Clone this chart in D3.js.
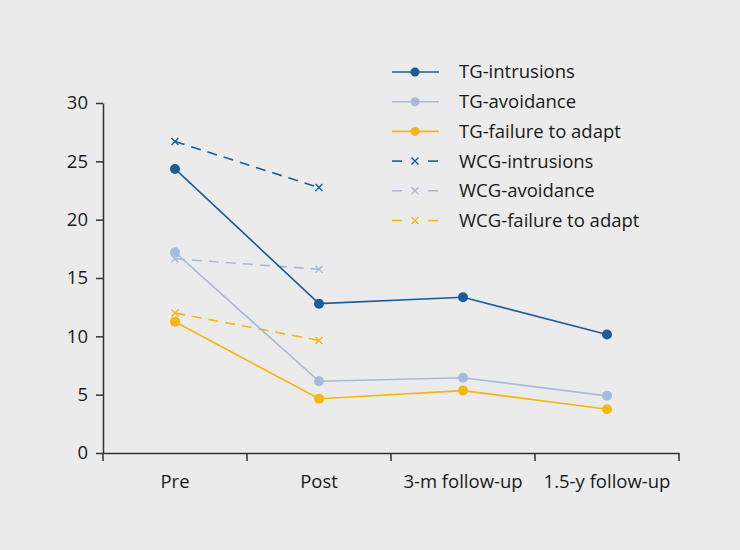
<!DOCTYPE html>
<html><head><meta charset="utf-8">
<script src="https://cdn.jsdelivr.net/npm/d3@7"></script>
<style>
html,body{margin:0;padding:0;background:#ebebeb;}
svg{display:block;}
text{font-family:"Open Sans",sans-serif;fill:#1a1a1a;}
</style></head>
<body>
<script>
const categories = ["Pre", "Post", "3-m follow-up", "1.5-y follow-up"];
const yTicks = [0, 5, 10, 15, 20, 25, 30];
const seriesNames = ["TG-intrusions", "TG-avoidance", "TG-failure to adapt", "WCG-intrusions", "WCG-avoidance", "WCG-failure to adapt"];
const tgIntrusions = [24.35, 12.8, 13.35, 10.15];
const tgAvoidance = [17.2, 6.15, 6.45, 4.9];
const tgFailure = [11.25, 4.65, 5.35, 3.75];
const wcgIntrusions = [26.7, 22.75];
const wcgAvoidance = [16.65, 15.75];
const wcgFailure = [12.0, 9.65];
const colors = ["#1b5c9b", "#a9b9d9", "#f6b50f", "#1b5c9b", "#a9b9d9", "#f6b50f"];

const series = [
  {name: seriesNames[0], values: tgIntrusions, color: colors[0], dashed: false},
  {name: seriesNames[1], values: tgAvoidance, color: colors[1], dashed: false},
  {name: seriesNames[2], values: tgFailure, color: colors[2], dashed: false},
  {name: seriesNames[3], values: wcgIntrusions, color: colors[3], dashed: true},
  {name: seriesNames[4], values: wcgAvoidance, color: colors[4], dashed: true},
  {name: seriesNames[5], values: wcgFailure, color: colors[5], dashed: true}
];

(function(){
const W = 740, H = 550, FS = 18.5;
const svg = d3.select("body").append("svg").attr("width", W).attr("height", H);
svg.append("rect").attr("width", W).attr("height", H).attr("fill", "#ebebeb");

const mLeft = 103, mRight = 679, mTop = 103, mBottom = 453;
const x = d3.scaleBand().domain(categories).range([mLeft, mRight]).paddingInner(0).paddingOuter(0);
const y = d3.scaleLinear().domain([0, 30]).range([mBottom, mTop]);

// axes
const yAxis = svg.append("g").attr("transform", `translate(${mLeft},0)`)
  .call(d3.axisLeft(y).tickValues(yTicks).tickSize(7).tickSizeOuter(0));
yAxis.select(".domain").attr("stroke", "#333").attr("stroke-width", 1.5);
yAxis.selectAll(".tick line").attr("stroke", "#333").attr("stroke-width", 1.5);
yAxis.selectAll(".tick text").attr("font-size", FS).attr("x", -15).attr("fill", "#1a1a1a").attr("font-family", "Open Sans");

const xAxis = svg.append("g").attr("transform", `translate(0,${mBottom})`)
  .call(d3.axisBottom(x).tickSize(0).tickSizeOuter(0));
xAxis.select(".domain").attr("stroke", "#333").attr("stroke-width", 1.5);
xAxis.selectAll(".tick text").attr("font-size", FS).attr("dy", "0").attr("y", 35).attr("fill", "#1a1a1a").attr("font-family", "Open Sans");
// boundary ticks
const bounds = categories.map(c => x(c)).concat([x(categories[categories.length - 1]) + x.bandwidth()]);
svg.append("g").selectAll("line").data(bounds).join("line")
  .attr("x1", d => d).attr("x2", d => d).attr("y1", mBottom).attr("y2", mBottom + 8)
  .attr("stroke", "#333").attr("stroke-width", 1.5);

const cx = i => x(categories[i]) + x.bandwidth() / 2;
const line = d3.line().x((d, i) => cx(i)).y(d => y(d));

function cross(g, px, py, color) {
  const s = 3.5;
  g.append("path").attr("d", `M${px - s},${py - s}L${px + s},${py + s}M${px - s},${py + s}L${px + s},${py - s}`)
    .attr("stroke", color).attr("stroke-width", 1.4).attr("fill", "none");
}

const order = [3, 4, 5, 1, 2, 0];
order.forEach(k => {
  const s = series[k];
  const g = svg.append("g");
  g.append("path").datum(s.values).attr("d", line).attr("fill", "none")
    .attr("stroke", s.color).attr("stroke-width", 1.6)
    .attr("stroke-dasharray", s.dashed ? "10,7" : null);
  s.values.forEach((v, i) => {
    if (s.dashed) cross(g, cx(i), y(v), s.color);
    else g.append("circle").attr("cx", cx(i)).attr("cy", y(v)).attr("r", 5).attr("fill", s.color);
  });
});

// legend
const lg = svg.append("g");
series.forEach((s, i) => {
  const ly = 72 + i * 29.7;
  if (s.dashed) {
    lg.append("line").attr("x1", 392).attr("x2", 402).attr("y1", ly).attr("y2", ly).attr("stroke", s.color).attr("stroke-width", 1.6);
    lg.append("line").attr("x1", 428).attr("x2", 438).attr("y1", ly).attr("y2", ly).attr("stroke", s.color).attr("stroke-width", 1.6);
    cross(lg, 415, ly, s.color);
  } else {
    lg.append("line").attr("x1", 392).attr("x2", 439).attr("y1", ly).attr("y2", ly).attr("stroke", s.color).attr("stroke-width", 1.6);
    lg.append("circle").attr("cx", 415).attr("cy", ly).attr("r", 4.5).attr("fill", s.color);
  }
  lg.append("text").attr("x", 459).attr("y", ly).attr("dy", "0.35em").attr("font-size", FS).text(s.name);
});
})();
</script>
</body></html>
